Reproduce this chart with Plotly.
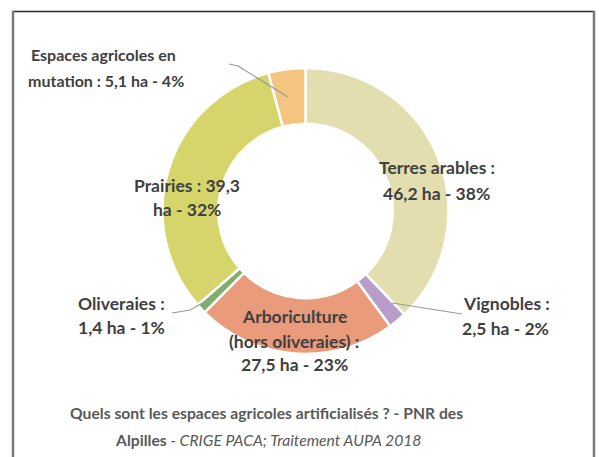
import plotly.graph_objects as go

# ---- data ----
categories = ["Terres arables", "Vignobles", "Arboriculture (hors oliveraies)",
              "Oliveraies", "Prairies", "Espaces agricoles en mutation"]
surfaces_ha = [46.2, 2.5, 27.5, 1.4, 39.3, 5.1]
percents = [38, 2, 23, 1, 32, 4]
colors = ["#E3DEB0", "#B89DCB", "#EA9B7B", "#7FAD6C", "#D6D56B", "#F3C57E"]

title_line1 = "Quels sont les espaces agricoles artificialisés ? - PNR des"
title_bold2 = "Alpilles"
title_italic2 = " - CRIGE PACA; Traitement AUPA 2018"

W, H = 599, 457


def fmt(v):
    return f"{v:.1f}".replace(".", ",")


# label lines built from the data
def lines_for(i):
    v, p = fmt(surfaces_ha[i]), percents[i]
    if i == 0:
        return ["Terres arables :", f"{v} ha - {p}%"]
    if i == 1:
        return ["Vignobles :", f"{v} ha - {p}%"]
    if i == 2:
        return ["Arboriculture", "(hors oliveraies) :", f"{v} ha - {p}%"]
    if i == 3:
        return ["Oliveraies :", f"{v} ha - {p}%"]
    if i == 4:
        return [f"Prairies : {v}", f"ha - {p}%"]
    return ["Espaces agricoles en", f"mutation : {v} ha - {p}%"]


# label placement (pixel centres of each line) and font size
label_pos = {
    0: [(437, 167), (436, 193)],
    1: [(506, 303), (505, 328)],
    2: [(294, 316), (294, 341), (294, 364)],
    3: [(121, 303), (121, 327)],
    4: [(187, 185), (187, 210)],
    5: [(103, 55), (106, 80)],
}
label_size = {0: 17.5, 1: 17.5, 2: 17.5, 3: 17.5, 4: 17.5, 5: 16}


def px(x):
    return x / W


def py(y):
    return 1 - y / H


cx, cy, R = 305.5, 211, 143

fig = go.Figure()
fig.add_trace(go.Pie(
    labels=categories,
    values=surfaces_ha,
    marker=dict(colors=colors, line=dict(color="white", width=2.5)),
    hole=0.61,
    sort=False,
    direction="clockwise",
    rotation=0,
    textinfo="none",
    hoverinfo="label+value+percent",
    showlegend=False,
    domain=dict(x=[px(cx - R), px(cx + R)], y=[py(cy + R), py(cy - R)]),
))

annotations = []
for i in range(len(categories)):
    font_lab = dict(family="Lato, 'Open Sans', sans-serif", size=label_size[i], color="#404040")
    for txt, (x, y) in zip(lines_for(i), label_pos[i]):
        annotations.append(dict(
            x=px(x), y=py(y), xref="paper", yref="paper",
            text=f"<b>{txt}</b>", showarrow=False,
            xanchor="center", yanchor="middle", font=font_lab))

font_title = dict(family="Lato, 'Open Sans', sans-serif", size=15.7, color="#595959")
annotations.append(dict(x=px(266), y=py(413), xref="paper", yref="paper",
                        text=f"<b>{title_line1}</b>", showarrow=False,
                        xanchor="center", yanchor="middle", font=font_title))
annotations.append(dict(x=px(268), y=py(440), xref="paper", yref="paper",
                        text=f"<b>{title_bold2}</b><i>{title_italic2}</i>", showarrow=False,
                        xanchor="center", yanchor="middle", font=font_title))


def path(points):
    s = "M " + " L ".join(f"{px(x)} {py(y)}" for x, y in points)
    return s


shapes = [
    # leader lines
    dict(type="path", xref="paper", yref="paper",
         path=path([(229, 64), (238, 66), (288, 97)]),
         line=dict(color="#9A9A9A", width=1.2)),
    dict(type="path", xref="paper", yref="paper",
         path=path([(172, 313), (190, 310), (213, 297)]),
         line=dict(color="#9A9A9A", width=1.2)),
    dict(type="path", xref="paper", yref="paper",
         path=path([(392, 303), (462, 314)]),
         line=dict(color="#9A9A9A", width=1.2)),
    # frame
    dict(type="line", xref="paper", yref="paper", x0=px(12), x1=px(595),
         y0=py(11.5), y1=py(11.5), line=dict(color="#2B2B2B", width=1.5)),
    dict(type="line", xref="paper", yref="paper", x0=px(13), x1=px(13),
         y0=py(11), y1=py(460), line=dict(color="#7A7A7A", width=2.5)),
    dict(type="line", xref="paper", yref="paper", x0=px(594), x1=px(594),
         y0=py(11), y1=py(460), line=dict(color="#7A7A7A", width=2.5)),
]

fig.update_layout(
    width=W, height=H,
    margin=dict(l=0, r=0, t=0, b=0),
    paper_bgcolor="white", plot_bgcolor="white",
    annotations=annotations, shapes=shapes,
)

fig.write_html(
    "out.html",
    config={"displayModeBar": False},
    post_script="document.body.style.margin='0';document.body.style.overflow='hidden';",
)
